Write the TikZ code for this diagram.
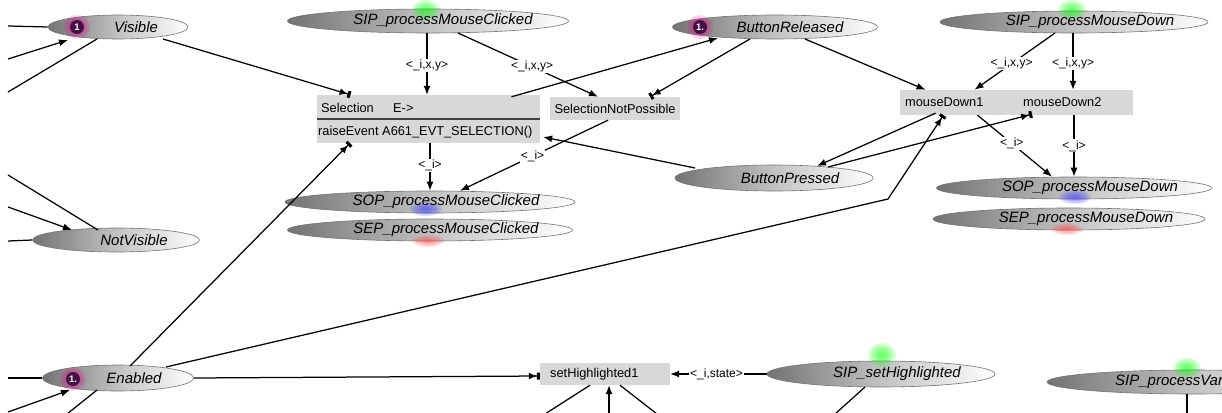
\documentclass[tikz,border=0pt]{standalone}
\usepackage{fontspec}
\setmainfont{Liberation Sans}
\usetikzlibrary{arrows.meta,calc,shapes.geometric}

\definecolor{badgefill}{HTML}{4A0E46}
\definecolor{boxgray}{HTML}{D8D8D8}

% soft coloured spot: x, y, colour, x radius, y radius
\newcommand{\softspot}[5]{%
  \foreach \gi in {1,...,5}{%
    \fill[#3, opacity=0.16] (#1,#2) ellipse [x radius={#4pt*\gi/5}, y radius={#5pt*\gi/5}];}}

\begin{document}
\begin{tikzpicture}[x=1pt,y=-1pt,
  state/.style={ellipse, draw=black!55, line width=0.6pt, inner sep=0pt,
                left color=black!55, right color=white, middle color=black!24},
  stxt/.style={font=\fontsize{15}{17}\selectfont\itshape, inner sep=0pt},
  box/.style={rectangle, fill=boxgray, inner sep=0pt},
  btxt/.style={font=\fontsize{12.8}{14}\selectfont, inner sep=0pt, anchor=west},
  lab/.style={font=\fontsize{12}{13}\selectfont, fill=white, inner sep=1pt},
  badge/.style={circle, fill=badgefill, text=white, inner sep=0pt, minimum size=14pt,
                font=\fontsize{9.5}{10}\selectfont\bfseries},
  edge/.style={line width=1.25pt, black},
  arr/.style={edge, -{Latex[length=9pt,width=7pt]}},
  bar/.style={edge, -{Latex[length=8pt,width=7pt]Rectangle[length=3pt,width=7pt]}}
]
\useasboundingbox (0,0) rectangle (1222,412);
\clip (0,0) rectangle (1222,412);

% ---- state ellipses
\node[state, minimum width=140pt, minimum height=24pt] (vis)  at (118,27)  {};
\node[state, minimum width=281pt, minimum height=24pt] (smc)  at (428,21)  {};
\node[state, minimum width=205pt, minimum height=24pt] (brel) at (775,27)  {};
\node[state, minimum width=268pt, minimum height=22pt] (smd)  at (1074,22) {};
\node[state, minimum width=290pt, minimum height=22pt] (sopc) at (430,202) {};
\node[state, minimum width=285pt, minimum height=22pt] (sepc) at (430,230) {};
\node[state, minimum width=198pt, minimum height=26pt] (bpr)  at (774,178) {};
\node[state, minimum width=275pt, minimum height=22pt] (sopd) at (1074,188) {};
\node[state, minimum width=272pt, minimum height=22pt] (sepd) at (1069,219) {};
\node[state, minimum width=167pt, minimum height=24pt] (nvis) at (116,240) {};
\node[state, minimum width=151pt, minimum height=26pt] (en)   at (118,378) {};
\node[state, minimum width=228pt, minimum height=26pt] (sh)   at (881,374) {};
\node[state, minimum width=290pt, minimum height=24pt] (spv)  at (1192,382) {};

% ---- coloured glows on the ellipses
\softspot{426}{10}{green}{14}{10}
\softspot{1072}{10}{green}{14}{10}
\softspot{426}{209}{blue!80!white}{16}{7}
\softspot{428}{241}{red!70!white}{16}{6}
\softspot{1075}{197}{blue!80!white}{16}{7}
\softspot{1067}{229}{red!70!white}{16}{6}
\softspot{882}{355}{green}{14}{12}
\softspot{1187}{368}{green}{14}{10}
\softspot{77}{27}{magenta}{13}{12}
\softspot{700}{27}{magenta}{13}{12}
\softspot{73}{379}{magenta}{13}{12}

% ---- ellipse labels
\node[stxt] (tvis)  at (136,27)  {Visible};
\node[stxt] (tsmc)  at (443,21)  {SIP\_processMouseClicked};
\node[stxt] (tbrel) at (790,27)  {ButtonReleased};
\node[stxt] (tsmd)  at (1090,22) {SIP\_processMouseDown};
\node[stxt] (tsopc) at (446,202) {SOP\_processMouseClicked};
\node[stxt] (tsepc) at (446,230) {SEP\_processMouseClicked};
\node[stxt] (tbpr)  at (790,178) {ButtonPressed};
\node[stxt] (tsopd) at (1090,188) {SOP\_processMouseDown};
\node[stxt] (tsepd) at (1086,219) {SEP\_processMouseDown};
\node[stxt] (tnvis) at (134,240) {NotVisible};
\node[stxt] (ten)   at (134,378) {Enabled};
\node[stxt] (tsh)   at (897,374) {SIP\_setHighlighted};
\node[stxt, anchor=west] (tspv) at (1115,382) {SIP\_processVar};

% ---- badges
\node[badge] (bvis)  at (77,27)  {1};
\node[badge] (bbrel) at (700,27) {1.};
\node[badge] (ben)   at (73,379) {1.};

% ---- rectangles
\node[box, minimum width=223pt, minimum height=48pt] (sel) at (428.5,119) {};
\draw[line width=1.6pt, black!75] (sel.west) -- (sel.east);
\node[btxt] (selA) at (321,108) {Selection};
\node[btxt] (selB) at (393,108) {E->};
\node[btxt] (selC) at (318,132) {raiseEvent A661\_EVT\_SELECTION()};

\node[box, minimum width=130pt, minimum height=23pt, font=\fontsize{12.8}{14}\selectfont]
  (snp) at (615,108.5) {SelectionNotPossible};

\node[box, minimum width=105pt, minimum height=25pt] (md1) at (952.5,102.5) {};
\node[box, minimum width=128pt, minimum height=25pt] (md2) at (1069,102.5) {};
\node[btxt] (tmd1) at (905,102.5) {mouseDown1};
\node[btxt] (tmd2) at (1023,102.5) {mouseDown2};

\node[box, minimum width=130pt, minimum height=22pt] (shl) at (605,374) {};
\node[btxt] (tshl) at (550,374) {setHighlighted1};

% ---- free ends at the picture border
\coordinate (l1) at (8,26);
\coordinate (l2) at (8,59);
\coordinate (l3) at (8,92);
\coordinate (l4) at (8,175);
\coordinate (l5) at (8,207);
\coordinate (l6) at (8,241);
\coordinate (l7) at (8,378);
\coordinate (l8) at (8,412);
\coordinate (l9) at (67,414);
\coordinate (b1) at (545,414);
\coordinate (b2) at (609,414);
\coordinate (b3) at (657,414);
\coordinate (b4) at (835,414);
\coordinate (b5) at (1187,414);
\coordinate (bend) at (888,199);

% ---- connectors
\draw[edge] (l1) -- (vis.west);
\draw[arr]  (l2) -- ($(vis)+(-50,13)$);
\draw[edge] (l3) -- ($(vis)+(-21,12)$);
\draw[bar]  ($(vis)+(45,12)$) -- ($(sel.north)+(-78,0)$);

\draw[edge] (l4) -- ($(nvis)+(-18,-10)$);
\draw[arr]  (l5) -- ($(nvis)+(-44,-10)$);
\draw[edge] (l6) -- (nvis.west);

\draw[edge] (l7) -- (en.west);
\draw[arr]  (l8) -- ($(en)+(-48,12)$);
\draw[edge] (l9) -- ($(en)+(-21,12)$);

\draw[arr] ($(smc.south)+(-1,0)$) -- node[lab,pos=.52]{<\_i,x,y>} ($(sel.north)+(-1.5,0)$);
\draw[arr] ($(smc)+(30,12)$) -- node[lab,pos=.53]{<\_i,x,y>} ($(snp.north)+(-17,0)$);
\draw[arr] ($(sel.north)+(83,2)$) -- ($(brel)+(-57,11)$);
\draw[bar] ($(brel)+(-25,12)$) -- ($(snp.north)+(35,0)$);
\draw[arr] ($(brel)+(30,12)$) -- ($(md1.north)+(-27,0)$);
\draw[arr] ($(smd)+(-19,11)$) -- node[lab,pos=.54]{<\_i,x,y>} ($(md1.north)+(22,0)$);
\draw[arr] ($(smd.south)+(-1,0)$) -- node[lab,pos=.53]{<\_i,x,y>} ($(md2.north)+(4,0)$);
\draw[arr] ($(md1.south)+(25,0)$) -- node[lab,pos=.46]{<\_i>} ($(sopd.north)+(-22,0)$);
\draw[arr] ($(md2.south)+(5,0)$) -- node[lab,pos=.5]{<\_i>} (sopd.north);
\draw[arr] ($(sel.south)+(1.5,0)$) -- node[lab,pos=.46]{<\_i>} (sopc.north);
\draw[arr] ($(snp.south)+(-7,0)$) -- node[lab,pos=.51]{<\_i>} ($(sopc.north)+(30,0)$);
\draw[arr] ($(bpr)+(-79,-10)$) -- ($(sel.east)+(3,18)$);
\draw[arr] ($(md1.south)+(-17,-2)$) -- ($(bpr)+(43,-12)$);
\draw[bar] ($(bpr)+(54,-11)$) -- ($(md2.south)+(-37,-1)$);
\draw[bar] ($(en)+(48,-11)$) -- (bend) -- ($(md1.south)+(-9,0)$);
\draw[bar] ($(en)+(12,-12)$) -- ($(sel.south)+(-78.5,0)$);
\draw[bar] (en.east) -- ($(shl.west)+(0,2)$);
\draw[arr] (sh.west) -- node[lab,pos=.52]{<\_i,state>} (shl.east);

\draw[edge] ($(shl.south)+(-15,0)$) -- (b1);
\draw[arr]  (b2) -- ($(shl.south)+(4,0)$);
\draw[edge] ($(shl.south)+(15,0)$) -- (b3);
\draw[edge] ($(sh)+(-16,13)$) -- (b4);
\draw[edge] ($(spv.south)+(-5,0)$) -- (b5);
\end{tikzpicture}
\end{document}
